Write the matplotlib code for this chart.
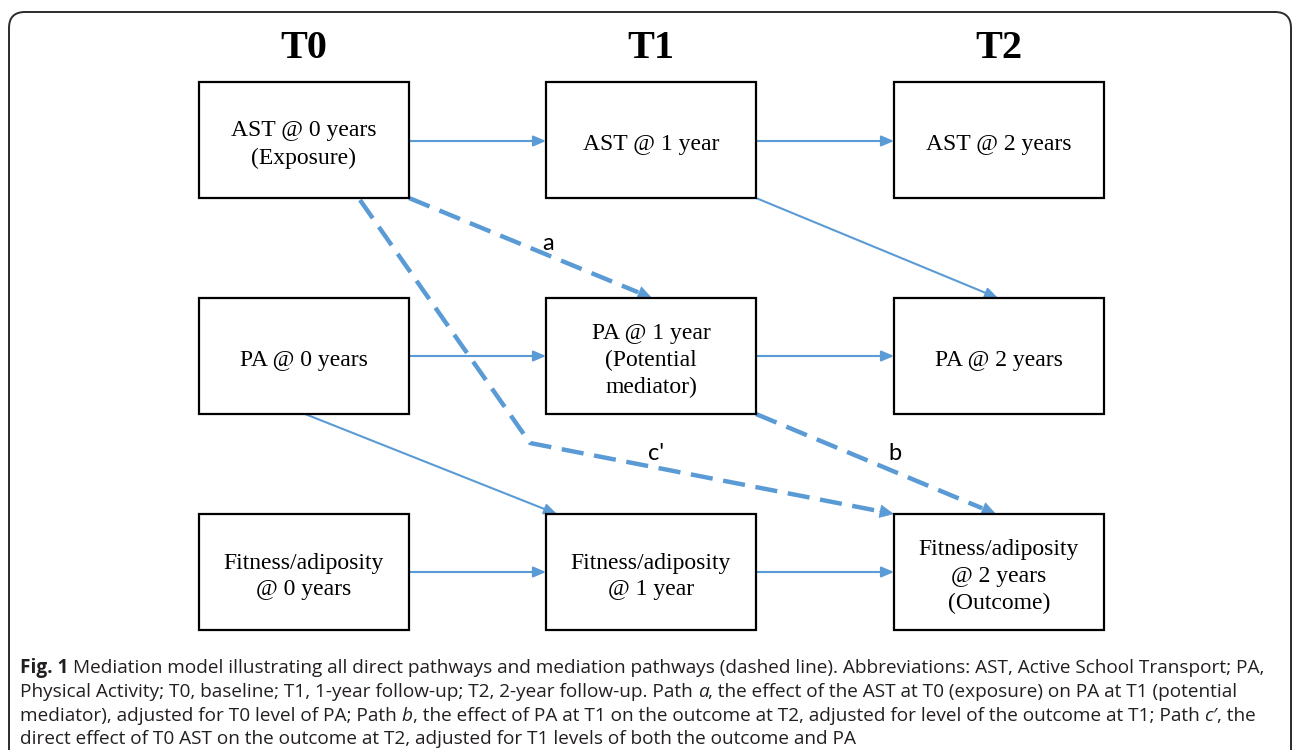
import math
import matplotlib
matplotlib.use("Agg")
import matplotlib.pyplot as plt
from matplotlib.patches import Rectangle, FancyBboxPatch

# ---------------- data ----------------
time_headers = ["T0", "T1", "T2"]
row_names = ["AST", "PA", "Fitness"]
box_labels = [
    ["AST @ 0 years\n(Exposure)", "AST @ 1 year", "AST @ 2 years"],
    ["PA @ 0 years", "PA @ 1 year\n(Potential\nmediator)", "PA @ 2 years"],
    ["Fitness/adiposity\n@ 0 years", "Fitness/adiposity\n@ 1 year", "Fitness/adiposity\n@ 2 years\n(Outcome)"],
]
path_labels = ["a", "b", "c'"]
caption_lines = [
    [("Fig. 1", "bold", "normal", False),
     ("Mediation model illustrating all direct pathways and mediation pathways (dashed line). Abbreviations: AST, Active School Transport; PA,", "normal", "normal", True)],
    [("Physical Activity; T0, baseline; T1, 1-year follow-up; T2, 2-year follow-up. Path", "normal", "normal", False),
     ("a", "normal", "italic", True),
     (", the effect of the AST at T0 (exposure) on PA at T1 (potential", "normal", "normal", False)],
    [("mediator), adjusted for T0 level of PA; Path", "normal", "normal", False),
     ("b", "normal", "italic", True),
     (", the effect of PA at T1 on the outcome at T2, adjusted for level of the outcome at T1; Path", "normal", "normal", False),
     ("c\u2032", "normal", "italic", True),
     (", the", "normal", "normal", False)],
    [("direct effect of T0 AST on the outcome at T2, adjusted for T1 levels of both the outcome and PA", "normal", "normal", False)],
]

# ---------------- layout ----------------
W, H = 1293, 750
col_x = [199, 546, 894]
row_y = [82, 298, 514]
box_w, box_h = 210, 116
blue = "#5B9BD5"

fig = plt.figure(figsize=(W / 100, H / 100), dpi=100)
ax = fig.add_axes([0, 0, 1, 1])
ax.set_xlim(0, W)
ax.set_ylim(H, 0)
ax.axis("off")

# outer rounded frame
frame = FancyBboxPatch((9, 12), 1282, 800, boxstyle="round,pad=0,rounding_size=16",
                       fc="white", ec="#2b2b2b", lw=1.4, zorder=0)
ax.add_patch(frame)

# headers
for i, t in enumerate(time_headers):
    ax.text(col_x[i] + box_w / 2, 48, t, ha="center", va="center",
            fontsize=29, fontweight="bold", family="Liberation Serif", color="black")

# boxes
for r in range(3):
    for c in range(3):
        ax.add_patch(Rectangle((col_x[c], row_y[r]), box_w, box_h, fc="white",
                               ec="black", lw=1.6, zorder=3))
        ax.text(col_x[c] + box_w / 2, row_y[r] + box_h / 2 + 4.5, box_labels[r][c],
                ha="center", va="center", fontsize=17, family="Liberation Serif",
                linespacing=1.36, zorder=4)


def solid_arrow(p0, p1):
    ax.annotate("", xy=p1, xytext=p0,
                arrowprops=dict(arrowstyle="-|>,head_length=0.75,head_width=0.32",
                                color=blue, lw=1.5, shrinkA=0, shrinkB=0),
                zorder=2)


def dashed_arrow(pts):
    xs = [p[0] for p in pts]
    ys = [p[1] for p in pts]
    x0, y0 = xs[-2], ys[-2]
    x1, y1 = xs[-1], ys[-1]
    L = math.hypot(x1 - x0, y1 - y0)
    hl = 15
    bx, by = x1 - (x1 - x0) * hl / L, y1 - (y1 - y0) * hl / L
    ax.plot(xs[:-1] + [bx], ys[:-1] + [by], color=blue, lw=3.2,
            dashes=(5.0, 2.4), solid_joinstyle="miter", dash_capstyle="butt", zorder=2)
    ax.annotate("", xy=(x1, y1), xytext=(bx, by),
                arrowprops=dict(arrowstyle="-|>,head_length=0.95,head_width=0.45",
                                color=blue, lw=0.5, shrinkA=0, shrinkB=0),
                zorder=2)


# horizontal solid arrows
for r in range(3):
    cy = row_y[r] + box_h / 2 + (1 if r == 0 else 0)
    for c in range(2):
        solid_arrow((col_x[c] + box_w, cy), (col_x[c + 1], cy))

# diagonal solid arrows
solid_arrow((col_x[1] + box_w, row_y[0] + box_h), (998, row_y[1]))
solid_arrow((305, row_y[1] + box_h), (557, row_y[2]))

# dashed mediation arrows
dashed_arrow([(col_x[0] + box_w, row_y[0] + box_h), (652, row_y[1])])        # a
dashed_arrow([(col_x[1] + box_w, row_y[1] + box_h), (996, row_y[2])])        # b
dashed_arrow([(360, 200), (530, 443), (col_x[2], row_y[2])])                # c'

label_pos = [(548, 243), (895, 453), (656, 453)]
for lab, (lx, ly) in zip(path_labels, label_pos):
    ax.text(lx, ly, lab, ha="center", va="center", fontsize=17, family="Lato",
            color="black", zorder=5)

# caption
fig.canvas.draw()
renderer = fig.canvas.get_renderer()
cap_font = "Open Sans"
cap_color = "#231f20"


def width_px(s, size, weight, style):
    t = ax.text(0, 0, s, fontsize=size, family=cap_font, fontweight=weight, fontstyle=style)
    w = t.get_window_extent(renderer).width
    t.remove()
    return w


def line_width(segs, size):
    sp = width_px("a a", size, "normal", "normal") - width_px("aa", size, "normal", "normal")
    total = 0
    for s, wgt, sty, spb in segs:
        if spb:
            total += sp
        total += width_px(s, size, wgt, sty)
    return total


size = 12.0
target = 1242
for _ in range(3):
    size *= target / line_width(caption_lines[0], size)

sp = width_px("a a", size, "normal", "normal") - width_px("aa", size, "normal", "normal")
baselines = [673, 697, 721, 744.5]
for segs, yb in zip(caption_lines, baselines):
    x = 20
    for s, wgt, sty, spb in segs:
        if spb:
            x += sp
        t = ax.text(x, yb, s, fontsize=size, family=cap_font, fontweight=wgt,
                    fontstyle=sty, ha="left", va="baseline", color=cap_color, zorder=5)
        x += t.get_window_extent(renderer).width

fig.savefig("out.png", dpi=100)
